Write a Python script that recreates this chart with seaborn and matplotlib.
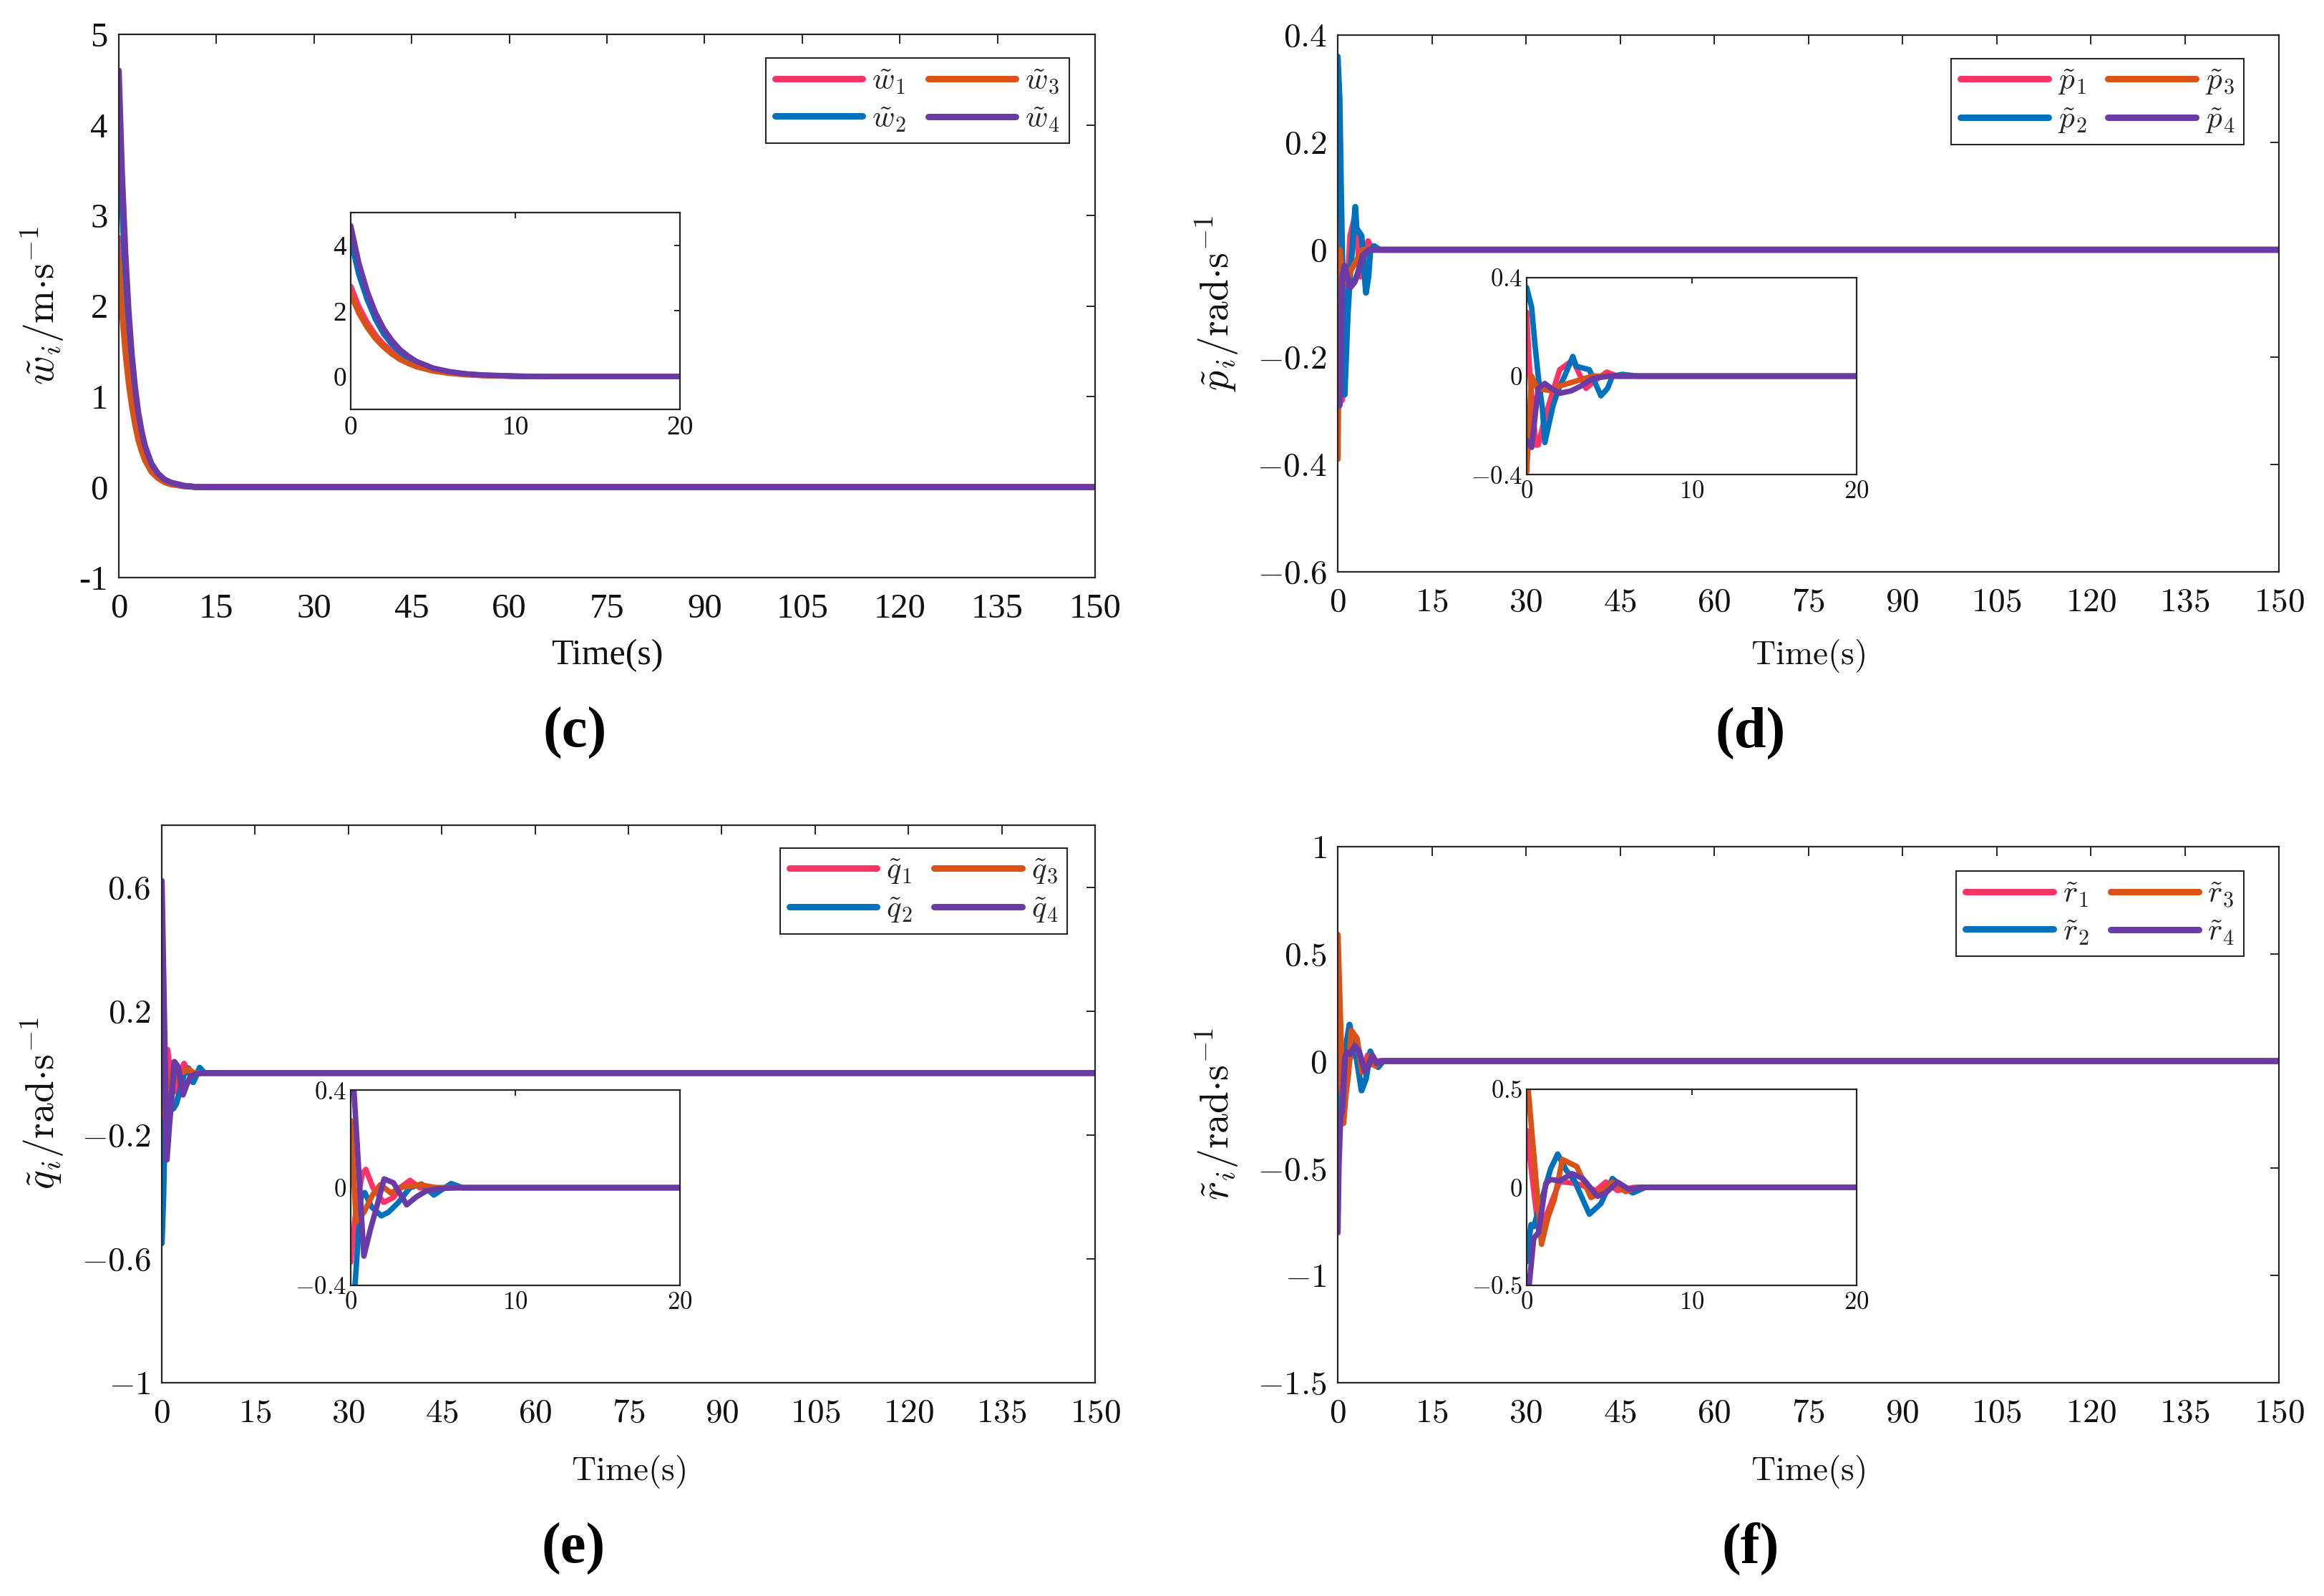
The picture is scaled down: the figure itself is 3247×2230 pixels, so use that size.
import numpy as np
import pandas as pd
import matplotlib
matplotlib.use("Agg")
import matplotlib.pyplot as plt
import seaborn as sns

# ---------------- data ----------------
time_ticks = [0, 15, 30, 45, 60, 75, 90, 105, 120, 135, 150]
inset_time_ticks = [0, 10, 20]

# (c) w errors
w1_t = [0, 0.5, 1, 1.5, 2, 2.5, 3, 3.5, 4, 5, 6, 7, 8, 10, 12, 150]
w1_v = [2.75, 2.12, 1.65, 1.27, 0.98, 0.76, 0.58, 0.45, 0.34, 0.20, 0.12, 0.07, 0.04, 0.01, 0.0, 0.0]
w2_t = [0, 0.5, 1, 1.5, 2, 2.5, 3, 3.5, 4, 5, 6, 7, 8, 10, 12, 150]
w2_v = [4.15, 3.10, 2.35, 1.75, 1.30, 0.98, 0.75, 0.56, 0.42, 0.24, 0.13, 0.075, 0.04, 0.01, 0.0, 0.0]
w3_t = [0, 0.5, 1, 1.5, 2, 2.5, 3, 3.5, 4, 5, 6, 7, 8, 10, 12, 150]
w3_v = [2.50, 1.93, 1.50, 1.16, 0.90, 0.69, 0.52, 0.40, 0.30, 0.17, 0.10, 0.055, 0.03, 0.01, 0.0, 0.0]
w4_t = [0, 0.5, 1, 1.5, 2, 2.5, 3, 3.5, 4, 5, 6, 7, 8, 10, 12, 150]
w4_v = [4.60, 3.45, 2.60, 1.95, 1.46, 1.10, 0.82, 0.62, 0.46, 0.26, 0.15, 0.085, 0.05, 0.015, 0.0, 0.0]

# (d) p errors
p1_t = [0, 0.15, 0.55, 0.7, 1.1, 1.6, 2.0, 2.8, 3.6, 4.1, 4.85, 5.5, 150]
p1_v = [0.26, 0.05, -0.28, -0.28, -0.17, -0.06, 0.026, 0.065, -0.05, -0.02, 0.016, 0.0, 0.0]
p2_t = [0, 0.3, 0.5, 0.7, 0.95, 1.1, 1.4, 1.6, 1.95, 2.3, 2.8, 3.0, 3.8, 4.5, 4.9, 5.2, 5.8, 6.7, 150]
p2_v = [0.36, 0.28, 0.13, 0.0, -0.13, -0.27, -0.18, -0.12, -0.05, 0.0, 0.08, 0.04, 0.026, -0.08, -0.05, 0.0, 0.007, 0.0, 0.0]
p3_t = [0, 0.3, 0.65, 1.5, 2.0, 3.0, 4.0, 150]
p3_v = [-0.39, 0.0, -0.05, -0.06, -0.04, -0.02, 0.0, 0.0]
p4_t = [0, 0.3, 0.7, 1.1, 1.5, 2.0, 2.7, 3.3, 4.0, 5.0, 150]
p4_v = [-0.26, -0.29, -0.05, -0.03, -0.05, -0.07, -0.06, -0.04, -0.01, 0.0, 0.0]

# (e) q errors
q1_t = [0, 0.33, 0.7, 0.92, 1.35, 2.0, 2.6, 3.0, 3.6, 4.2, 5.0, 150]
q1_v = [-0.305, -0.08, 0.056, 0.075, 0.0, -0.06, -0.04, 0.0, 0.03, 0.0, 0.0, 0.0]
q2_t = [0, 0.26, 0.62, 0.85, 1.28, 1.86, 2.3, 2.9, 3.6, 4.3, 5.05, 6.1, 6.8, 150]
q2_v = [-0.55, -0.40, -0.04, -0.02, -0.08, -0.115, -0.10, -0.06, 0.0, 0.015, -0.03, 0.017, 0.0, 0.0]
q3_t = [0, 0.33, 0.81, 1.35, 1.8, 2.45, 3.0, 4.2, 5.2, 150]
q3_v = [0.275, -0.14, -0.10, -0.027, 0.012, -0.022, 0.0, 0.012, 0.0, 0.0]
q4_t = [0, 0.8, 1.2, 1.57, 2.03, 2.6, 3.4, 4.0, 4.6, 5.5, 6.5, 150]
q4_v = [0.62, -0.28, -0.17, -0.08, 0.036, 0.02, -0.07, -0.037, -0.013, -0.003, 0.0, 0.0]

# (f) r errors
r1_t = [0, 0.72, 1.3, 2.0, 3.0, 4.2, 4.8, 5.5, 6.5, 150]
r1_v = [0.29, -0.22, -0.12, 0.03, 0.02, -0.016, 0.027, -0.016, 0.0, 0.0]
r2_t = [0, 0.26, 0.43, 1.16, 1.45, 1.88, 2.4, 2.9, 3.8, 4.5, 5.2, 5.8, 6.45, 7.2, 150]
r2_v = [-0.38, -0.19, -0.20, 0.01, 0.094, 0.17, 0.087, 0.033, -0.137, -0.083, 0.045, 0.0, -0.028, 0.0, 0.0]
r3_t = [0, 0.9, 1.3, 1.67, 2.17, 2.75, 3.04, 3.9, 4.6, 5.2, 6.0, 6.7, 150]
r3_v = [0.59, -0.29, -0.15, -0.064, 0.142, 0.118, 0.106, -0.052, -0.022, 0.027, -0.022, 0.0, 0.0]
r4_t = [0, 0.15, 0.43, 0.72, 1.16, 1.45, 2.0, 2.75, 3.4, 4.3, 4.8, 5.5, 6.2, 7.0, 150]
r4_v = [-0.80, -0.50, -0.26, -0.23, 0.02, 0.04, 0.033, 0.07, 0.045, -0.046, -0.028, 0.027, -0.01, 0.0, 0.0]

w_yticks = [-1, 0, 1, 2, 3, 4, 5]
w_yticklabels = ["-1", "0", "1", "2", "3", "4", "5"]
w_inset_yticks = [0, 2, 4]
p_yticks = [-0.6, -0.4, -0.2, 0, 0.2, 0.4]
p_inset_yticks = [-0.4, 0, 0.4]
q_yticks = [-1, -0.6, -0.2, 0.2, 0.6]
q_inset_yticks = [-0.4, 0, 0.4]
r_yticks = [-1.5, -1, -0.5, 0, 0.5, 1]
r_inset_yticks = [-0.5, 0, 0.5]

colors = ["#FF3366", "#0072BD", "#D95319", "#6A3AA6"]

# ---------------- style ----------------
sns.set_style("white")
plt.rcParams["font.family"] = ["Liberation Serif", "DejaVu Serif"]
plt.rcParams["mathtext.fontset"] = "cm"
plt.rcParams["axes.unicode_minus"] = True

W, H = 3247, 2230
fig = plt.figure(figsize=(W / 100, H / 100), dpi=100)


def box(l, r, t, b):
    return [l / W, 1 - b / H, (r - l) / W, (b - t) / H]


def fx(x):
    return x / W


def fy(y):
    return 1 - y / H


def make_df(ts, vs, names):
    frames = [pd.DataFrame({"t": t, "v": v, "s": n}) for t, v, n in zip(ts, vs, names)]
    return pd.concat(frames, ignore_index=True)


panels = [
    dict(letter="c", sym="w", unit=r"\mathrm{m{\cdot}s}", ts=[w1_t, w2_t, w3_t, w4_t], vs=[w1_v, w2_v, w3_v, w4_v],
         main=(166, 1530, 48, 807), inset=(490, 950, 297, 572),
         ylim=(-1, 5), yticks=w_yticks, ytl=w_yticklabels,
         iylim=(-1, 5), iyticks=w_inset_yticks, times=True,
         ylab=(60, 427), xlab=(848, 916), leg=(1494, 81), let=(803, 1024)),
    dict(letter="d", sym="p", unit=r"\mathrm{rad{\cdot}s}", ts=[p1_t, p2_t, p3_t, p4_t], vs=[p1_v, p2_v, p3_v, p4_v],
         main=(1869, 3184, 49, 799), inset=(2133, 2594, 388, 663),
         ylim=(-0.6, 0.4), yticks=p_yticks, ytl=None,
         iylim=(-0.4, 0.4), iyticks=p_inset_yticks, times=False,
         ylab=(1701, 424), xlab=(2526, 916), leg=(3135, 82), let=(2446, 1024)),
    dict(letter="e", sym="q", unit=r"\mathrm{rad{\cdot}s}", ts=[q1_t, q2_t, q3_t, q4_t], vs=[q1_v, q2_v, q3_v, q4_v],
         main=(226, 1530, 1153, 1932), inset=(490, 950, 1523, 1796),
         ylim=(-1, 0.8), yticks=q_yticks, ytl=None,
         iylim=(-0.4, 0.4), iyticks=q_inset_yticks, times=False,
         ylab=(60, 1542), xlab=(878, 2056), leg=(1491, 1185), let=(801, 2164)),
    dict(letter="f", sym="r", unit=r"\mathrm{rad{\cdot}s}", ts=[r1_t, r2_t, r3_t, r4_t], vs=[r1_v, r2_v, r3_v, r4_v],
         main=(1869, 3184, 1183, 1932), inset=(2133, 2594, 1522, 1796),
         ylim=(-1.5, 1), yticks=r_yticks, ytl=None,
         iylim=(-0.5, 0.5), iyticks=r_inset_yticks, times=False,
         ylab=(1701, 1557), xlab=(2526, 2056), leg=(3135, 1217), let=(2446, 2164)),
]

spine_c = "#262626"

for P in panels:
    names = [r"$\tilde{%s}_%d$" % (P["sym"], i) for i in range(1, 5)]
    df = make_df(P["ts"], P["vs"], names)
    pal = dict(zip(names, colors))

    for which in ("main", "inset"):
        l, r, t, b = P[which]
        ax = fig.add_axes(box(l, r, t, b))
        ax.set_facecolor("white")
        is_main = which == "main"
        sns.lineplot(data=df, x="t", y="v", hue="s", hue_order=names, palette=pal,
                     estimator=None, sort=True, linewidth=6.0 if is_main else 5.5,
                     ax=ax, legend=False)
        for s in ax.spines.values():
            s.set_visible(True)
            s.set_color(spine_c)
            s.set_linewidth(1.6)
        if is_main:
            ax.set_xlim(0, 150)
            ax.set_ylim(*P["ylim"])
            xt, yt = time_ticks, P["yticks"]
            fs = 35 if P["times"] else 34
            tl, padx, pady = 9, 16, 11
        else:
            ax.set_xlim(0, 20)
            ax.set_ylim(*P["iylim"])
            xt, yt = inset_time_ticks, P["iyticks"]
            fs = 27 if P["times"] else 25
            tl, padx, pady = 6, 6, 4
        ax.set_xticks(xt)
        ax.set_yticks(yt)
        if P["times"]:
            ax.set_xticklabels([str(v) for v in xt])
            if is_main:
                ax.set_yticklabels(P["ytl"])
            else:
                ax.set_yticklabels([str(v) for v in yt])
        else:
            ax.set_xticklabels(["$%g$" % v for v in xt])
            ax.set_yticklabels(["$%g$" % v for v in yt])
        ax.tick_params(axis="both", direction="in", top=True, right=True, length=tl, width=1.4,
                       color=spine_c, labelsize=fs, labelcolor="#111111")
        ax.tick_params(axis="x", pad=padx)
        ax.tick_params(axis="y", pad=pady)
        ax.set_xlabel("")
        ax.set_ylabel("")
        if is_main:
            handles = ax.get_lines()[:4]
            leg = ax.legend(handles, names, ncol=2, loc="upper right",
                            bbox_to_anchor=(fx(P["leg"][0]), fy(P["leg"][1])),
                            bbox_transform=fig.transFigure, borderaxespad=0,
                            fontsize=31, handlelength=2.85, handletextpad=0.3,
                            columnspacing=0.7, labelspacing=0.3, borderpad=0.3,
                            frameon=True, fancybox=False, framealpha=1)
            leg.get_frame().set_edgecolor(spine_c)
            leg.get_frame().set_linewidth(1.5)
            for lh in leg.get_lines():
                lh.set_linewidth(6.5)
            if P["times"]:
                ax.set_xlabel("Time(s)", fontsize=36, color="#111111")
            else:
                ax.set_xlabel(r"$\mathrm{Time(s)}$", fontsize=34, color="#111111")
            ax.xaxis.set_label_coords(fx(P["xlab"][0]), fy(P["xlab"][1]), transform=fig.transFigure)
            ax.xaxis.label.set_va("center")
            ax.set_ylabel(r"$\tilde{%s}_i/%s^{-1}$" % (P["sym"], P["unit"]), fontsize=40, color="#111111")
            ax.yaxis.set_label_coords(fx(P["ylab"][0]), fy(P["ylab"][1]), transform=fig.transFigure)
            ax.yaxis.label.set_va("center")
            ax.yaxis.label.set_ha("center")

    fig.text(fx(P["let"][0]), fy(P["let"][1]), "(" + P["letter"] + ")", fontsize=58,
             fontweight="bold", ha="center", va="center", color="black",
             family=["Liberation Serif", "DejaVu Serif"])

fig.savefig("out.png", dpi=100, facecolor="white")
